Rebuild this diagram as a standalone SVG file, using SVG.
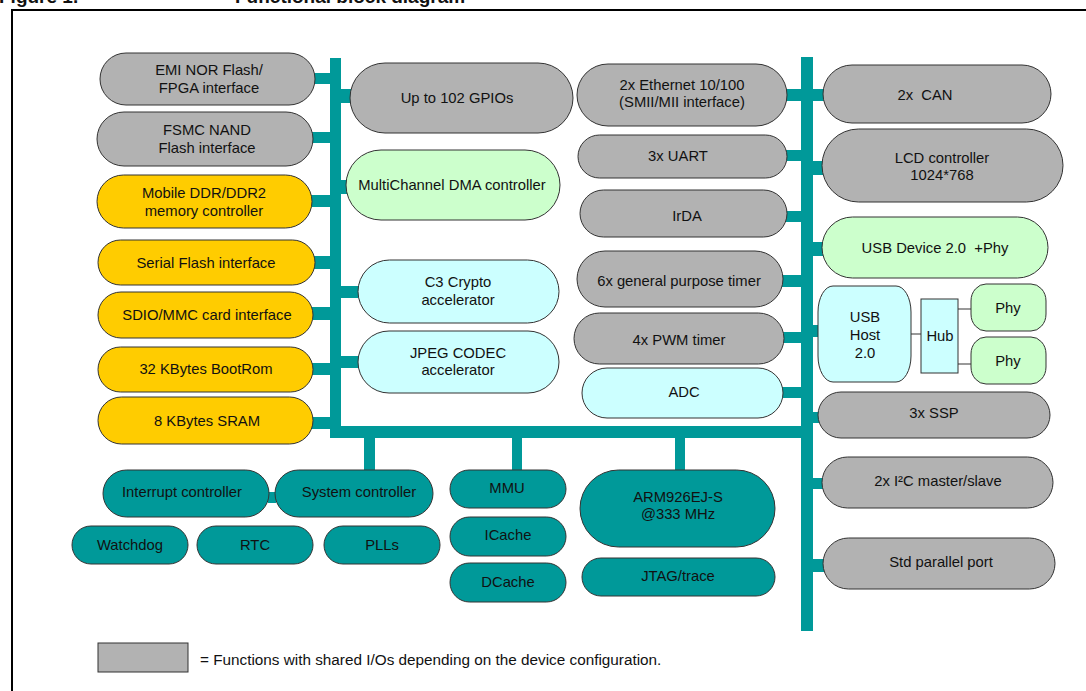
<svg xmlns="http://www.w3.org/2000/svg" width="1086" height="691" viewBox="0 0 1086 691">
<style>
  text { font-family: "Liberation Sans", Arial, sans-serif; font-size: 14.8px; fill: #111; text-anchor: middle; }
  .title { font-weight: bold; font-size: 19px; text-anchor: start; }
  .legend-text { font-size: 15.3px; text-anchor: start; }
  .nd { stroke: #333; stroke-width: 1; }
  .gray { fill: #b2b2b2; }
  .yel { fill: #ffcc00; }
  .grn { fill: #ccffcc; }
  .cyn { fill: #ccffff; }
  .teal { fill: #009999; }
  .bus { fill: #009999; }
  .thin { stroke: #555; stroke-width: 1.2; fill: none; }
</style>
<rect x="0" y="0" width="1086" height="691" fill="#ffffff"/>
<text class="title" x="-1" y="3">Figure 1.</text>
<text class="title" x="235" y="3">Functional block diagram</text>
<rect x="12" y="10" width="1090" height="700" fill="none" stroke="#000" stroke-width="2"/>

<g id="connectors">
  <rect class="bus" x="330" y="58" width="11" height="380"/>
  <rect class="bus" x="330" y="426" width="483" height="12"/>
  <rect class="bus" x="801" y="57" width="12" height="574"/>
  <rect class="bus" x="314" y="73" width="17" height="11"/>
  <rect class="bus" x="312" y="132" width="19" height="11"/>
  <rect class="bus" x="311" y="195" width="20" height="12"/>
  <rect class="bus" x="314" y="256" width="17" height="13"/>
  <rect class="bus" x="312" y="307" width="19" height="13"/>
  <rect class="bus" x="312" y="363" width="19" height="12"/>
  <rect class="bus" x="312" y="417" width="19" height="12"/>
  <rect class="bus" x="340" y="89" width="12" height="14"/>
  <rect class="bus" x="340" y="180" width="8" height="14"/>
  <rect class="bus" x="340" y="286" width="19" height="12"/>
  <rect class="bus" x="340" y="356" width="19" height="12"/>
  <rect class="bus" x="786" y="89" width="16" height="12"/>
  <rect class="bus" x="786" y="150" width="16" height="11"/>
  <rect class="bus" x="786" y="211" width="16" height="11"/>
  <rect class="bus" x="782" y="275" width="20" height="12"/>
  <rect class="bus" x="783" y="332" width="19" height="11"/>
  <rect class="bus" x="782" y="387" width="20" height="11"/>
  <rect class="bus" x="812" y="89" width="12" height="12"/>
  <rect class="bus" x="812" y="161" width="11" height="14"/>
  <rect class="bus" x="812" y="242" width="11" height="14"/>
  <rect class="bus" x="812" y="325" width="7" height="12"/>
  <rect class="bus" x="812" y="412" width="7" height="11"/>
  <rect class="bus" x="812" y="478" width="11" height="11"/>
  <rect class="bus" x="812" y="559" width="12" height="13"/>
  <rect class="bus" x="364" y="437" width="11" height="34"/>
  <rect class="bus" x="512" y="437" width="10" height="34"/>
  <rect class="bus" x="675" y="437" width="10" height="34"/>
  <rect class="bus" x="268" y="492" width="8" height="11"/>
  <line class="thin" x1="911" y1="334" x2="921" y2="334"/>
  <line class="thin" x1="958" y1="309" x2="972" y2="309"/>
  <line class="thin" x1="958" y1="364" x2="972" y2="364"/>
</g>

<g id="n_emi"><rect class="nd gray" x="100" y="53" width="215" height="52" rx="26"/><text x="209" y="75">EMI NOR Flash/</text><text x="209" y="92.5">FPGA interface</text></g>
<g id="n_fsmc"><rect class="nd gray" x="97" y="112" width="216" height="54" rx="27"/><text x="207" y="135">FSMC NAND</text><text x="207" y="153">Flash interface</text></g>
<g id="n_ddr"><rect class="nd yel" x="97" y="175" width="215" height="53" rx="26.5"/><text x="204" y="198">Mobile DDR/DDR2</text><text x="204" y="216">memory controller</text></g>
<g id="n_serial"><rect class="nd yel" x="98" y="240" width="217" height="45" rx="22.5"/><text x="206" y="268">Serial Flash interface</text></g>
<g id="n_sdio"><rect class="nd yel" x="98" y="292" width="215" height="46" rx="23"/><text x="207" y="320">SDIO/MMC card interface</text></g>
<g id="n_bootrom"><rect class="nd yel" x="98" y="347" width="215" height="45" rx="22.5"/><text x="206" y="374">32 KBytes BootRom</text></g>
<g id="n_sram"><rect class="nd yel" x="98" y="397" width="215" height="47" rx="23.5"/><text x="207" y="426">8 KBytes SRAM</text></g>

<g id="n_gpio"><rect class="nd gray" x="350" y="63" width="223" height="70" rx="35"/><text x="457" y="103">Up to 102 GPIOs</text></g>
<g id="n_dma"><rect class="nd grn" x="346" y="150" width="214" height="70" rx="35"/><text x="452" y="190">MultiChannel DMA controller</text></g>
<g id="n_c3"><rect class="nd cyn" x="358" y="260" width="201" height="63" rx="31.5"/><text x="458" y="287">C3 Crypto</text><text x="458" y="305">accelerator</text></g>
<g id="n_jpeg"><rect class="nd cyn" x="358" y="331" width="201" height="62" rx="31"/><text x="458" y="358">JPEG CODEC</text><text x="458" y="375">accelerator</text></g>

<g id="n_eth"><rect class="nd gray" x="577" y="64" width="210" height="62" rx="31"/><text x="682" y="90">2x Ethernet 10/100</text><text x="682" y="107">(SMII/MII interface)</text></g>
<g id="n_uart"><rect class="nd gray" x="578" y="135" width="209" height="43" rx="21.5"/><text x="678" y="161">3x UART</text></g>
<g id="n_irda"><rect class="nd gray" x="580" y="190" width="207" height="47" rx="23.5"/><text x="687" y="221">IrDA</text></g>
<g id="n_gpt"><rect class="nd gray" x="577" y="251" width="206" height="56" rx="28"/><text x="679" y="286">6x general purpose timer</text></g>
<g id="n_pwm"><rect class="nd gray" x="574" y="313" width="210" height="51" rx="25.5"/><text x="679" y="345">4x PWM timer</text></g>
<g id="n_adc"><rect class="nd cyn" x="582" y="368" width="201" height="50" rx="25"/><text x="684" y="397">ADC</text></g>

<g id="n_can"><rect class="nd gray" x="823" y="65" width="228" height="58" rx="29"/><text x="925" y="100" xml:space="preserve">2x  CAN</text></g>
<g id="n_lcd"><rect class="nd gray" x="822" y="129" width="241" height="73" rx="36.5"/><text x="942" y="163">LCD controller</text><text x="942" y="180">1024*768</text></g>
<g id="n_usbdev"><rect class="nd grn" x="822" y="217" width="226" height="61" rx="30.5"/><text x="935" y="253" xml:space="preserve">USB Device 2.0  +Phy</text></g>
<g id="n_usbhost"><rect class="nd cyn" x="818" y="286" width="93" height="96" rx="15" ry="26"/><text x="865" y="322">USB</text><text x="865" y="340">Host</text><text x="865" y="358">2.0</text></g>
<g id="n_hub"><rect class="nd cyn" x="921" y="299" width="37" height="74"/><text x="940" y="341">Hub</text></g>
<g id="n_phy1"><rect class="nd grn" x="971" y="284" width="75" height="47" rx="15" ry="17"/><text x="1008" y="313">Phy</text></g>
<g id="n_phy2"><rect class="nd grn" x="971" y="337" width="75" height="47" rx="15" ry="17"/><text x="1008" y="366">Phy</text></g>
<g id="n_ssp"><rect class="nd gray" x="818" y="392" width="232" height="46" rx="23"/><text x="934" y="418">3x SSP</text></g>
<g id="n_i2c"><rect class="nd gray" x="822" y="457" width="231" height="51" rx="25.5"/><text x="938" y="486">2x I²C master/slave</text></g>
<g id="n_par"><rect class="nd gray" x="823" y="538" width="232" height="51" rx="25.5"/><text x="941" y="567">Std parallel port</text></g>

<g id="n_irq"><rect class="nd teal" x="103" y="470" width="166" height="47" rx="23.5"/><text x="182" y="497">Interrupt controller</text></g>
<g id="n_sys"><rect class="nd teal" x="275" y="470" width="158" height="47" rx="23.5"/><text x="359" y="497">System controller</text></g>
<g id="n_wd"><rect class="nd teal" x="72" y="526" width="116" height="38" rx="19"/><text x="130" y="550">Watchdog</text></g>
<g id="n_rtc"><rect class="nd teal" x="197" y="526" width="116" height="38" rx="19"/><text x="255" y="550">RTC</text></g>
<g id="n_pll"><rect class="nd teal" x="324" y="526" width="116" height="38" rx="19"/><text x="382" y="550">PLLs</text></g>
<g id="n_mmu"><rect class="nd teal" x="450" y="470" width="116" height="38" rx="19"/><text x="507" y="493">MMU</text></g>
<g id="n_icache"><rect class="nd teal" x="450" y="517" width="116" height="39" rx="19.5"/><text x="508" y="540">ICache</text></g>
<g id="n_dcache"><rect class="nd teal" x="450" y="563" width="116" height="39" rx="19.5"/><text x="508" y="587">DCache</text></g>
<g id="n_arm"><rect class="nd teal" x="580" y="470" width="195" height="77" rx="38.5"/><text x="678" y="502">ARM926EJ-S</text><text x="678" y="519">@333 MHz</text></g>
<g id="n_jtag"><rect class="nd teal" x="582" y="558" width="193" height="38" rx="19"/><text x="678" y="581">JTAG/trace</text></g>

<g id="legend"><rect class="nd gray" x="98" y="643" width="90" height="29"/><text class="legend-text" x="200" y="665">= Functions with shared I/Os depending on the device configuration.</text></g>
</svg>
